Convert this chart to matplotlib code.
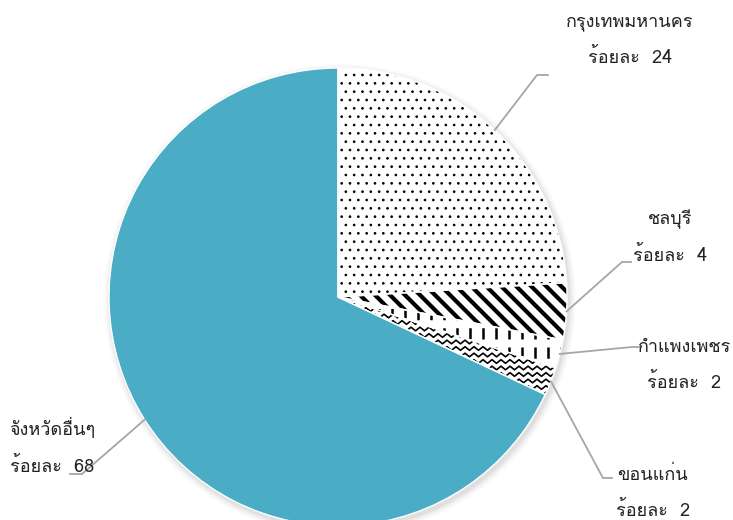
import numpy as np
import matplotlib
matplotlib.use("Agg")
import matplotlib.pyplot as plt
from matplotlib import font_manager
from matplotlib.ft2font import FT2Font
from matplotlib.patches import Circle


def thai_font():
    # pick the first installed family that has Thai glyphs
    for f in font_manager.fontManager.ttflist:
        try:
            if 0x0E01 in FT2Font(f.fname).get_charmap():
                return f.name
        except Exception:
            pass
    return "DejaVu Sans"


FONT = thai_font()
plt.rcParams["font.family"] = [FONT, "DejaVu Sans"]

# data
provinces = ["กรุงเทพมหานคร", "ชลบุรี", "กำแพงเพชร", "ขอนแก่น", "จังหวัดอื่นๆ"]
shares = [24, 4, 2, 2, 68]

BLUE = "#4bacc6"
patterns = ["dots", "diag", "dash", "wave", None]
faces = ["white", "white", "white", "white", BLUE]

W, H = 733, 520
CX, CY, R = 338, 297, 229

# label text anchor + leader line elbow / end (pixels from top-left)
label_xy = [(630, 40), (670, 237), (731, 365), (653, 493), (52, 447)]
label_ha = ["center", "center", "right", "center", "center"]
elbow = [(537, 75), (622, 262), (632, 347), (603, 478), (82, 474)]
ends = [(548, 75), (631, 262), (641, 347), (612, 478), (70, 474)]


def fy(y):
    return H - y


fig = plt.figure(figsize=(7.33, 5.2), dpi=100)
ax = fig.add_axes([0, 0, 1, 1])

# soft shadow
for i, a in enumerate([0.035, 0.03, 0.025, 0.02, 0.015]):
    ax.add_patch(Circle((CX + 2, fy(CY + 3)), R + 1 + i * 1.5, color="black",
                        alpha=a, lw=0, zorder=0))

wedges, _ = ax.pie(shares, center=(CX, fy(CY)), radius=R, startangle=90,
                   counterclock=False, colors=faces, frame=True,
                   wedgeprops=dict(linewidth=0))

for w, p in zip(wedges, patterns):
    w.set_zorder(1)
    if p == "dots":
        w.set_hatch("..")
        w.set_edgecolor("black")
        if hasattr(w, "set_hatch_linewidth"):
            w.set_hatch_linewidth(0.7)
    elif p == "diag":
        # thick stripes running down to the right
        for x0 in np.arange(200, 580, 15):
            ln, = ax.plot([x0, x0 + 200], [fy(240), fy(440)], color="black",
                          lw=3.0, solid_capstyle="butt", zorder=2)
            ln.set_clip_path(w)
    elif p == "dash":
        # short vertical dashes, clipped to the wedge
        for x in np.arange(340, 575, 13):
            ln, = ax.plot([x, x], [fy(270), fy(420)], color="black", lw=1.8,
                          dash_capstyle="butt", zorder=2)
            ln.set_dashes((4.5, 3.2))
            ln.set_clip_path(w)
    elif p == "wave":
        # zigzag rows, clipped to the wedge
        xs = np.arange(330, 580, 4.5)
        for y0 in np.arange(290, 420, 6.5):
            ys = y0 + np.where(np.arange(len(xs)) % 2 == 0, -1.8, 1.8)
            ln, = ax.plot(xs, fy(ys), color="black", lw=1.2, zorder=2)
            ln.set_clip_path(w)

# white separators
ax.pie(shares, center=(CX, fy(CY)), radius=R, startangle=90, counterclock=False,
       frame=True, wedgeprops=dict(fill=False, edgecolor="white", linewidth=1,
                                   zorder=2.5))
ax.set_xlim(0, W)
ax.set_ylim(0, H)
ax.set_aspect("equal")
ax.axis("off")

cum = np.cumsum([0] + shares[:-1])
for i, (name, v) in enumerate(zip(provinces, shares)):
    th = np.deg2rad(90 - (cum[i] + v / 2) * 3.6)
    px, py = CX + R * np.cos(th), fy(CY) + R * np.sin(th)
    ex, ey = elbow[i]
    ex2, ey2 = ends[i]
    ax.plot([px, ex, ex2], [py, fy(ey), fy(ey2)], color="#a6a6a6", lw=1.3,
            zorder=3)
    lx, ly = label_xy[i]
    ax.text(lx, fy(ly), f"{name}\nร้อยละ  {v}", ha=label_ha[i], va="center",
            multialignment="center", fontsize=13, linespacing=2.15,
            color="#222222", zorder=4)

fig.savefig("out.png", dpi=100)
